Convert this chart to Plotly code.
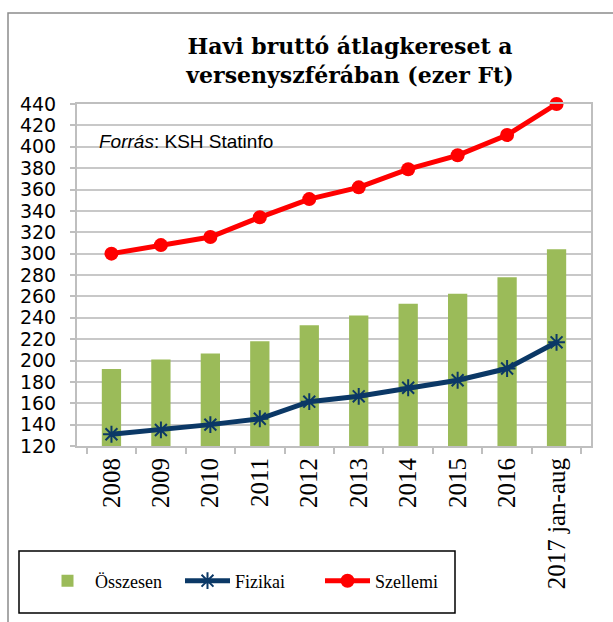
import plotly.graph_objects as go

categories = ["2008", "2009", "2010", "2011", "2012", "2013", "2014", "2015", "2016", "2017 jan-aug"]
osszesen = [192, 201, 206.5, 218, 233, 242, 253, 262.5, 278, 304]
fizikai = [131, 135, 140, 145.5, 161.5, 166.5, 174.5, 181.5, 192.5, 217]
szellemi = [300, 308, 315.5, 334, 351, 362, 379, 392, 411, 440]
y_ticks = list(range(120, 441, 20))

W, H = 613, 622
L, R, T, B = 77, 591, 104, 446
pw, ph = R - L, B - T

def px_x(x):
    return (x - L) / pw

def px_y(y):
    return (B - y) / ph

fig = go.Figure()
fig.add_trace(go.Bar(
    x=categories, y=osszesen, name="Összesen",
    marker=dict(color="#9bbb59", line=dict(width=0)),
))
fig.add_trace(go.Scatter(
    x=categories, y=fizikai, name="Fizikai", mode="lines+markers",
    line=dict(color="#0b3866", width=5),
    marker=dict(symbol="asterisk-open", size=14, color="#0b3866",
                line=dict(color="#0b3866", width=2)),
    cliponaxis=False,
))
fig.add_trace(go.Scatter(
    x=categories, y=szellemi, name="Szellemi", mode="lines+markers",
    line=dict(color="#ff0000", width=5),
    marker=dict(symbol="circle", size=14, color="#ff0000"),
    cliponaxis=False,
))

fig.update_layout(
    width=W, height=H,
    margin=dict(l=L, r=W - R, t=T, b=H - B, pad=0, autoexpand=False),
    paper_bgcolor="white", plot_bgcolor="white",
    bargap=0.61,
    showlegend=True,
    title=dict(
        text="<b>Havi bruttó átlagkereset a<br>versenyszférában (ezer Ft)</b>",
        x=350 / W, xanchor="center", xref="container",
        y=1 - 54 / H, yanchor="top", yref="container",
        font=dict(family="DejaVu Serif", size=22, color="black"),
    ),
    legend=dict(
        orientation="h", x=px_x(40), xanchor="left",
        y=px_y(581), yanchor="middle",
        font=dict(family="Liberation Serif", size=18, color="black"),
        bgcolor="rgba(0,0,0,0)", borderwidth=0,
        itemwidth=45, traceorder="normal",
        entrywidth=80, entrywidthmode="pixels",
    ),
    xaxis=dict(
        type="category", showgrid=False, automargin=False,
        showline=True, linecolor="#bfbfbf", linewidth=2, mirror=True,
        ticks="outside", tickson="boundaries", ticklen=6, tickcolor="#bfbfbf", tickwidth=1.5,
        tickangle=-90,
        tickfont=dict(family="Liberation Serif", size=25, color="black"),
    ),
    yaxis=dict(
        range=[120, 440], tickvals=y_ticks, automargin=False,
        showgrid=True, gridcolor="#c8c8c8", gridwidth=2,
        showline=True, linecolor="#bfbfbf", linewidth=2, mirror=True,
        ticks="outside", ticklen=5, tickcolor="#bfbfbf", tickwidth=1.5,
        ticklabelstandoff=10,
        tickfont=dict(family="DejaVu Sans", size=19, color="black"),
        zeroline=False,
    ),
    shapes=[
        dict(type="rect", xref="paper", yref="paper",
             x0=px_x(8), x1=px_x(700), y0=px_y(700), y1=px_y(13),
             line=dict(color="#8c8c8c", width=1.5), fillcolor="rgba(0,0,0,0)", layer="below"),
        dict(type="rect", xref="paper", yref="paper",
             x0=px_x(19), x1=px_x(455), y0=px_y(613), y1=px_y(551),
             line=dict(color="black", width=1.5), fillcolor="rgba(0,0,0,0)"),
    ],
    annotations=[
        dict(text="<i>Forrás</i>: KSH Statinfo", xref="paper", yref="paper",
             x=px_x(97), y=px_y(141), xanchor="left", yanchor="middle",
             showarrow=False,
             font=dict(family="Liberation Sans", size=19, color="black")),
    ],
)

fig.write_html(
    "out.html",
    config={"displayModeBar": False},
    post_script="document.body.style.margin='0';document.body.style.overflow='hidden';",
)
